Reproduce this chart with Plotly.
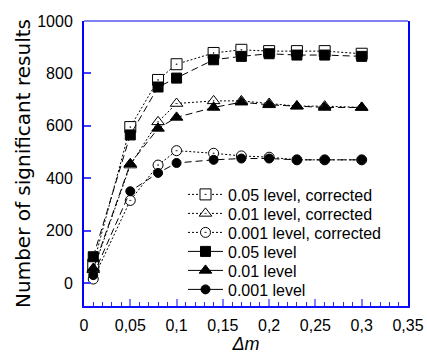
import plotly.graph_objects as go

# ---- data ----
delta_m = [0.01, 0.05, 0.08, 0.1, 0.14, 0.17, 0.2, 0.23, 0.26, 0.3]
lvl005_corr = [70, 595, 775, 835, 878, 890, 885, 885, 885, 875]
lvl001_corr = [50, 450, 615, 685, 695, 695, 685, 675, 675, 670]
lvl0001_corr = [15, 315, 450, 505, 495, 485, 480, 470, 470, 470]
lvl005 = [100, 565, 748, 782, 852, 865, 875, 870, 870, 865]
lvl001 = [55, 455, 590, 632, 670, 690, 680, 675, 670, 670]
lvl0001 = [30, 350, 420, 458, 470, 475, 475, 470, 470, 470]

series_names = ["0.05 level, corrected", "0.01 level, corrected", "0.001 level, corrected",
                "0.05 level", "0.01 level", "0.001 level"]
x_tickvals = [0, 0.05, 0.1, 0.15, 0.2, 0.25, 0.3, 0.35]
x_ticktext = ["0", "0,05", "0,1", "0,15", "0,2", "0,25", "0,3", "0,35"]
y_tickvals = [0, 200, 400, 600, 800, 1000]
y_ticktext = ["0", "200", "400", "600", "800", "1000"]

# ---- styles ----
series = [
    (lvl005_corr, "square-dot", 11, "white", "2px,2px"),
    (lvl001_corr, "triangle-up-dot", 11, "white", "2px,2px"),
    (lvl0001_corr, "circle-dot", 10, "white", "2px,2px"),
    (lvl005, "square", 10, "black", "7px,4px"),
    (lvl001, "triangle-up", 11, "black", "7px,4px"),
    (lvl0001, "circle", 9, "black", "7px,4px"),
]
legend_dash = ["2px,2px", "2px,2px", "2px,2px", "solid", "solid", "solid"]

fig = go.Figure()
for (vals, sym, size, fill, dash) in series:
    fig.add_trace(go.Scatter(
        x=delta_m, y=vals, mode="lines+markers", showlegend=False,
        line=dict(color="black", width=1, dash=dash),
        marker=dict(symbol=sym, size=size, color=fill, line=dict(color="black", width=1)),
    ))

# legend entries (one legend per entry for exact spacing)
row_px = [194.5, 213.5, 232.5, 251.5, 270.5, 289.5]
plot_top, plot_h = 21, 285
legend_names = ["legend", "legend2", "legend3", "legend4", "legend5", "legend6"]
for i, ((vals, sym, size, fill, dash), name) in enumerate(zip(series, series_names)):
    fig.add_trace(go.Scatter(
        x=[None], y=[None], mode="lines+markers", name=name, legend=legend_names[i],
        line=dict(color="black", width=1, dash=legend_dash[i]),
        marker=dict(symbol=sym, size=size, color=fill, line=dict(color="black", width=1)),
    ))

legend_layout = {}
for i, ln in enumerate(legend_names):
    legend_layout[ln] = dict(
        x=(183 - 84) / 324, xanchor="left",
        y=(plot_top + plot_h - row_px[i]) / plot_h, yanchor="middle",
        bgcolor="rgba(0,0,0,0)", borderwidth=0, itemwidth=35,
        font=dict(family="Liberation Sans, Arial, sans-serif", size=16, color="black"),
    )

tick_font = dict(family="Liberation Sans, Arial, sans-serif", size=16, color="black")

fig.update_layout(
    width=427, height=354,
    margin=dict(l=84, r=19, t=21, b=48),
    paper_bgcolor="white", plot_bgcolor="white",
    **legend_layout,
    xaxis=dict(
        range=[0, 0.35], tickvals=x_tickvals, ticktext=x_ticktext, automargin=False,
        showgrid=False, zeroline=False,
        showline=True, linecolor="#1010ff", linewidth=2, mirror=False,
        ticks="inside", ticklen=7, tickcolor="#8080ff", tickwidth=1.5,
        minor=dict(dtick=0.01, ticks="inside", ticklen=4, tickcolor="#3030ff", tickwidth=1),
        tickfont=tick_font, ticklabelstandoff=4,
        title=dict(text="<i>Δm</i>", font=dict(family="Liberation Sans, Arial, sans-serif", size=18, color="black"),
                   standoff=6),
    ),
    yaxis=dict(
        range=[-88, 1000], tickvals=y_tickvals, ticktext=y_ticktext, automargin=False,
        showgrid=False, zeroline=False,
        showline=True, linecolor="#0000ff", linewidth=2, mirror=True,
        ticks="inside", ticklen=7, tickcolor="#4040ff", tickwidth=1.5,
        tickfont=tick_font, ticklabelstandoff=6,
        title=dict(text="Number of significant results",
                   font=dict(family="DejaVu Sans, sans-serif", size=20, color="black"), standoff=1),
    ),
    shapes=[dict(type="line", xref="paper", yref="paper", x0=0, x1=1, y0=1, y1=1,
                 line=dict(color="#8080f0", width=2))],
)

fig.write_html("out.html")
